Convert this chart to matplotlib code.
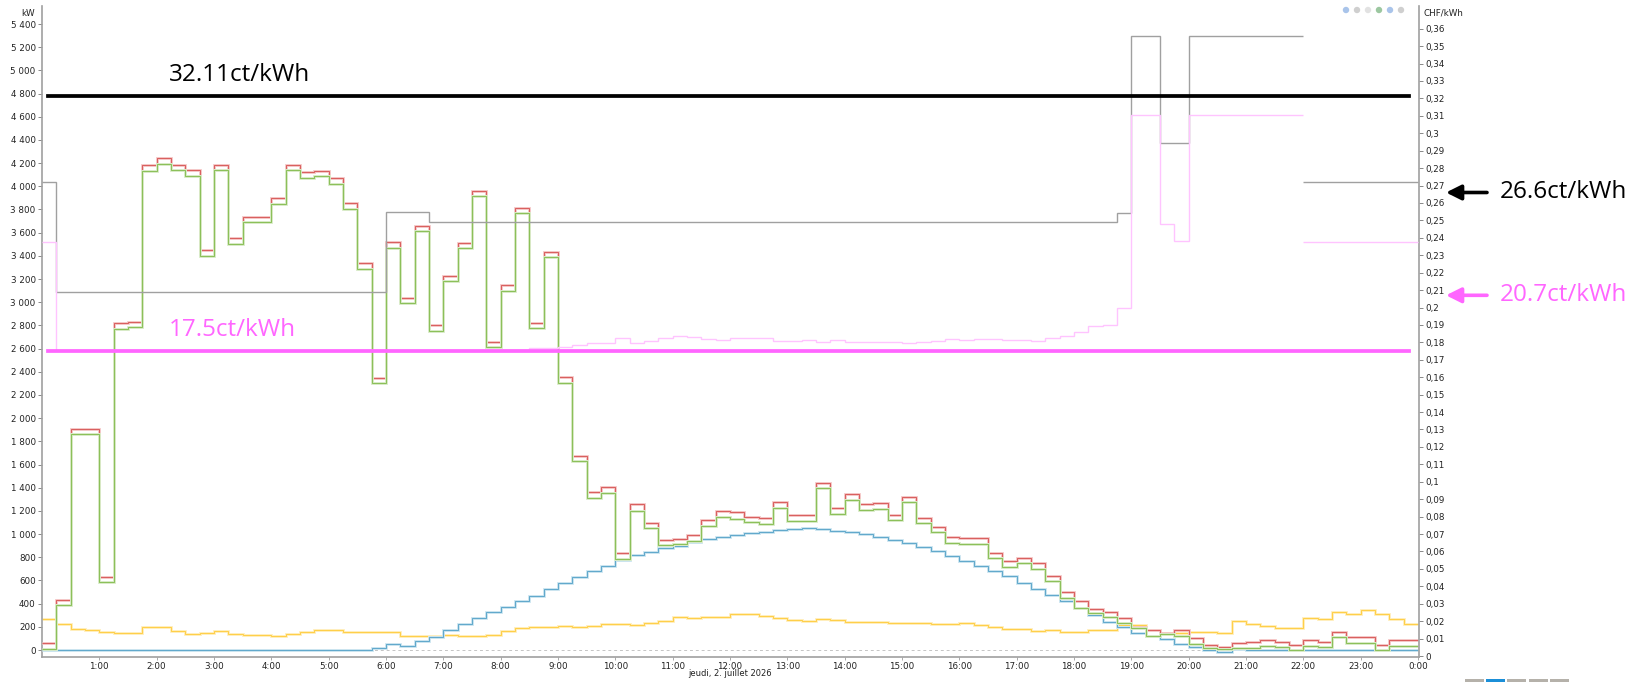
import matplotlib
matplotlib.use("Agg")
import matplotlib.pyplot as plt
import numpy as np
from matplotlib.ticker import FixedLocator, FuncFormatter
from matplotlib.patches import Circle, Rectangle

# ---------------- data (15-minute slots, 0:00 .. 23:45) ----------------
red_kw = [58, 429, 1910, 1910, 633, 2824, 2833, 4185, 4242, 4188, 4139, 3449,
          4185, 3558, 3739, 3739, 3895, 4188, 4122, 4136, 4070, 3854, 3336, 2350,
          3518, 3040, 3658, 2804, 3230, 3509, 3963, 2660, 3149, 3811, 2824, 3437,
          2353, 1676, 1360, 1404, 834, 1257, 1098, 949, 958, 990, 1122, 1202,
          1188, 1150, 1139, 1277, 1165, 1165, 1444, 1225, 1343, 1257, 1266, 1168,
          1323, 1142, 1064, 972, 969, 969, 840, 768, 797, 754, 638, 503,
          420, 354, 331, 279, 196, 173, 144, 173, 101, 43, 29, 63,
          72, 86, 72, 46, 84, 66, 158, 112, 112, 43, 84, 84]
green_kw = [11, 386, 1861, 1861, 584, 2772, 2784, 4136, 4196, 4139, 4090, 3397,
            4139, 3506, 3690, 3690, 3848, 4139, 4070, 4087, 4021, 3805, 3290, 2300,
            3471, 2991, 3615, 2755, 3184, 3466, 3917, 2612, 3100, 3768, 2775, 3388,
            2306, 1631, 1309, 1357, 785, 1202, 1050, 906, 912, 940, 1073, 1150,
            1133, 1102, 1090, 1225, 1116, 1116, 1395, 1176, 1292, 1205, 1214, 1119,
            1274, 1093, 1018, 923, 917, 917, 791, 719, 748, 699, 592, 451,
            365, 320, 282, 230, 190, 121, 140, 121, 52, 20, 10, 14,
            20, 37, 26, 0, 37, 23, 112, 63, 63, 0, 37, 37]
blue_kw = [0, 0, 0, 0, 0, 0, 0, 0, 0, 0, 0, 0,
           0, 0, 0, 0, 0, 0, 0, 0, 0, 0, 0, 20,
           49, 37, 78, 115, 173, 224, 279, 325, 374, 420, 469, 524,
           575, 630, 682, 727, 777, 820, 848, 883, 900, 934, 958, 978,
           990, 1007, 1016, 1035, 1047, 1050, 1044, 1029, 1018, 998, 978, 952,
           921, 886, 851, 808, 771, 722, 679, 638, 581, 529, 477, 423,
           365, 302, 244, 196, 144, 121, 92, 52, 23, 0, -20, 9,
           0, 0, 0, 0, 0, 0, 0, 0, 0, 0, 0, 0]
yellow_kw = [265, 222, 184, 173, 158, 144, 144, 201, 201, 161, 141, 144,
             161, 138, 127, 130, 118, 135, 153, 170, 170, 153, 153, 153,
             153, 121, 121, 121, 129, 121, 121, 129, 164, 187, 201, 201,
             210, 201, 210, 221, 221, 212, 233, 253, 285, 276, 285, 285,
             311, 311, 296, 273, 262, 250, 267, 262, 244, 244, 244, 233,
             233, 233, 227, 221, 233, 216, 201, 185, 185, 164, 173, 153,
             158, 173, 173, 213, 213, 173, 144, 144, 158, 158, 150, 253,
             224, 204, 193, 193, 279, 267, 325, 313, 342, 313, 265, 224]
# tariffs in CHF/kWh (right axis)
tariff_gray = [0.272] + [0.209] * 23 + [0.2546] * 3 + [0.2492] * 48 + [0.2544] \
    + [0.3558] * 2 + [0.2946] * 2 + [0.3558] * 8 + [0.272] * 8
tariff_pink = [0.2375] + [0.1755] * 33 + [
    0.1766, 0.1766, 0.1772, 0.1785, 0.1795, 0.1795, 0.1827, 0.1798, 0.181, 0.1823,
    0.1837, 0.1831, 0.1821, 0.1815, 0.1823, 0.1825, 0.1823, 0.181, 0.181, 0.1812,
    0.18, 0.1812, 0.18, 0.1804, 0.1804, 0.1804, 0.1798, 0.1804, 0.181, 0.1817,
    0.1812, 0.1817, 0.1817, 0.1815, 0.1812, 0.181, 0.1825, 0.1838, 0.1858, 0.1894,
    0.19, 0.1995, 0.3105, 0.3105, 0.2479, 0.2384] + [0.3105] * 8 + [0.2378] * 8
gray_break = 88          # no connector between slot 87 and 88 (22:00)

price_high = 0.3211
price_low = 0.175
arrow_black = 0.266
arrow_pink = 0.207
label_high = "32.11ct/kWh"
label_low = "17.5ct/kWh"
label_black = "26.6ct/kWh"
label_pink = "20.7ct/kWh"
hour_labels = [f"{h % 24}:00" for h in range(1, 25)]
date_label = "jeudi, 2. juillet 2026"

# ---------------- figure ----------------
W, H = 1643, 682
fig = plt.figure(figsize=(W / 100, H / 100), dpi=100)
ax_l, ax_r, ax_b, ax_t = 42, 1419, 657, 6
ax = fig.add_axes([ax_l / W, 1 - ax_b / H, (ax_r - ax_l) / W, (ax_b - ax_t) / H])
ax2 = ax.twinx()

edges = np.arange(len(red_kw) + 1) * 0.25

kw_per_px = 5400 / 626.0
ax.set_ylim((650 - ax_b) * kw_per_px, (650 - ax_t) * kw_per_px)
p_per_px = 0.36 / 627.3
ax2.set_ylim((656 - ax_b) * p_per_px, (656 - ax_t) * p_per_px)
ax.set_xlim(0, (ax_r - ax_l) / 57.33)

# zero dashed line
ax.axhline(0, color="#c4c4c4", lw=0.7, ls=(0, (3, 3)), zorder=1)

def stairs(a, vals, e, line, halo, lw=0.8, hw=2.1, z=2):
    a.stairs(vals, e, baseline=None, color=halo, lw=hw, zorder=z)
    a.stairs(vals, e, baseline=None, color=line, lw=lw, zorder=z + 0.1)

stairs(ax, yellow_kw, edges, "#ffcf4a", "#fff0c2", z=2)
stairs(ax, blue_kw, edges, "#62a9cc", "#d0e7f2", z=3)
stairs(ax, red_kw, edges, "#d9605f", "#f6cccc", z=4)
stairs(ax, green_kw, edges, "#8cc05a", "#dcedcc", z=5)

# tariff lines (right axis)
ax2.stairs(tariff_gray[:gray_break], edges[:gray_break + 1], baseline=None,
           color="#a0a0a0", lw=1.0, zorder=2)
ax2.stairs(tariff_gray[gray_break:], edges[gray_break:], baseline=None,
           color="#a0a0a0", lw=1.0, zorder=2)
ax2.stairs(tariff_pink[:gray_break], edges[:gray_break + 1], baseline=None,
           color="#ffc4ff", lw=1.0, zorder=3)
ax2.stairs(tariff_pink[gray_break:], edges[gray_break:], baseline=None,
           color="#ffc4ff", lw=1.0, zorder=3)

# reference lines
x0f, x1f = 6 / (ax_r - ax_l), (1409 - ax_l) / (ax_r - ax_l)
ax2.axhline(price_high, xmin=x0f, xmax=x1f, color="black", lw=2.7, zorder=6)
ax2.axhline(price_low, xmin=x0f, xmax=x1f, color="#ff66ff", lw=2.7, zorder=6)

tfont = dict(family="Open Sans", fontsize=17.5)
ax2.text(2.22, 0.3335, label_high, color="black", va="center", ha="left", **tfont)
ax2.text(2.22, 0.1871, label_low, color="#ff66ff", va="center", ha="left", **tfont)

trans = ax2.get_yaxis_transform()
fx = lambda px: (px - ax_l) / (ax_r - ax_l)
for yv, col, lab in [(arrow_black, "black", label_black), (arrow_pink, "#ff66ff", label_pink)]:
    ax2.annotate("", xy=(fx(1446), yv), xytext=(fx(1487), yv), xycoords=trans,
                 textcoords=trans, annotation_clip=False,
                 arrowprops=dict(arrowstyle="-|>,head_length=0.9,head_width=0.45",
                                 color=col, lw=2.6, shrinkA=0, shrinkB=0))
    ax2.text(fx(1500), yv, lab, transform=trans, color=col, va="center", ha="left",
             clip_on=False, **tfont)

# axes styling
for a in (ax, ax2):
    for s in a.spines.values():
        s.set_visible(False)
ax.spines["left"].set_visible(True)
ax.spines["bottom"].set_visible(True)
ax2.spines["right"].set_visible(True)
for s in (ax.spines["left"], ax.spines["bottom"], ax2.spines["right"]):
    s.set_color("#a0a0a0")
    s.set_linewidth(1.2)

ax.yaxis.set_major_locator(FixedLocator(np.arange(0, 5401, 200)))
ax.yaxis.set_major_formatter(FuncFormatter(lambda v, p: f"{int(round(v)):,}".replace(",", " ")))
ax2.yaxis.set_major_locator(FixedLocator(np.round(np.arange(0, 0.3601, 0.01), 2)))
ax2.yaxis.set_major_formatter(FuncFormatter(
    lambda v, p: (f"{v:.2f}".rstrip("0").rstrip(".") or "0").replace(".", ",")))
ax.xaxis.set_major_locator(FixedLocator(np.arange(1, 25)))
ax.xaxis.set_major_formatter(FuncFormatter(lambda v, p: hour_labels[int(round(v)) - 1]))

ax.tick_params(axis="y", direction="out", length=3, width=0.7, color="#888888",
               labelsize=6.3, pad=1.5, labelcolor="#222222")
ax2.tick_params(axis="y", direction="out", length=3, width=0.7, color="#888888",
                labelsize=6.3, pad=1.5, labelcolor="#222222")
ax.tick_params(axis="x", direction="out", length=2.5, width=0.7, color="#aaaaaa",
               labelsize=6.3, pad=0.8, labelcolor="#222222")

fig.text(28 / W, 1 - 13 / H, "kW", fontsize=6.3, ha="center", va="center", color="#222222")
fig.text(1424 / W, 1 - 13 / H, "CHF/kWh", fontsize=6.3, ha="left", va="center", color="#222222")
fig.text(730 / W, 1 - 673 / H, date_label, fontsize=6.0, ha="center", va="center", color="#222222")

# decorative UI (toolbar icons, page buttons)
ov = fig.add_axes([0, 0, 1, 1], zorder=10)
ov.set_xlim(0, W)
ov.set_ylim(H, 0)
ov.axis("off")
ov.patch.set_alpha(0)
icon_cols = ["#a9c4ea", "#cfcfcf", "#e2e2e2", "#9cc7a0", "#a9c4ea", "#cfcfcf"]
for i, c in enumerate(icon_cols):
    ov.add_patch(Circle((1346 + i * 11, 10), 3.2, color=c, lw=0))
btn_cols = ["#b5b1aa", "#1b8fd8", "#b5b1aa", "#b5b1aa", "#b5b1aa"]
for i, c in enumerate(btn_cols):
    ov.add_patch(Rectangle((1465 + i * 21.2, 678.5), 19, 4, color=c, lw=0))

fig.savefig("out.png", dpi=100)
